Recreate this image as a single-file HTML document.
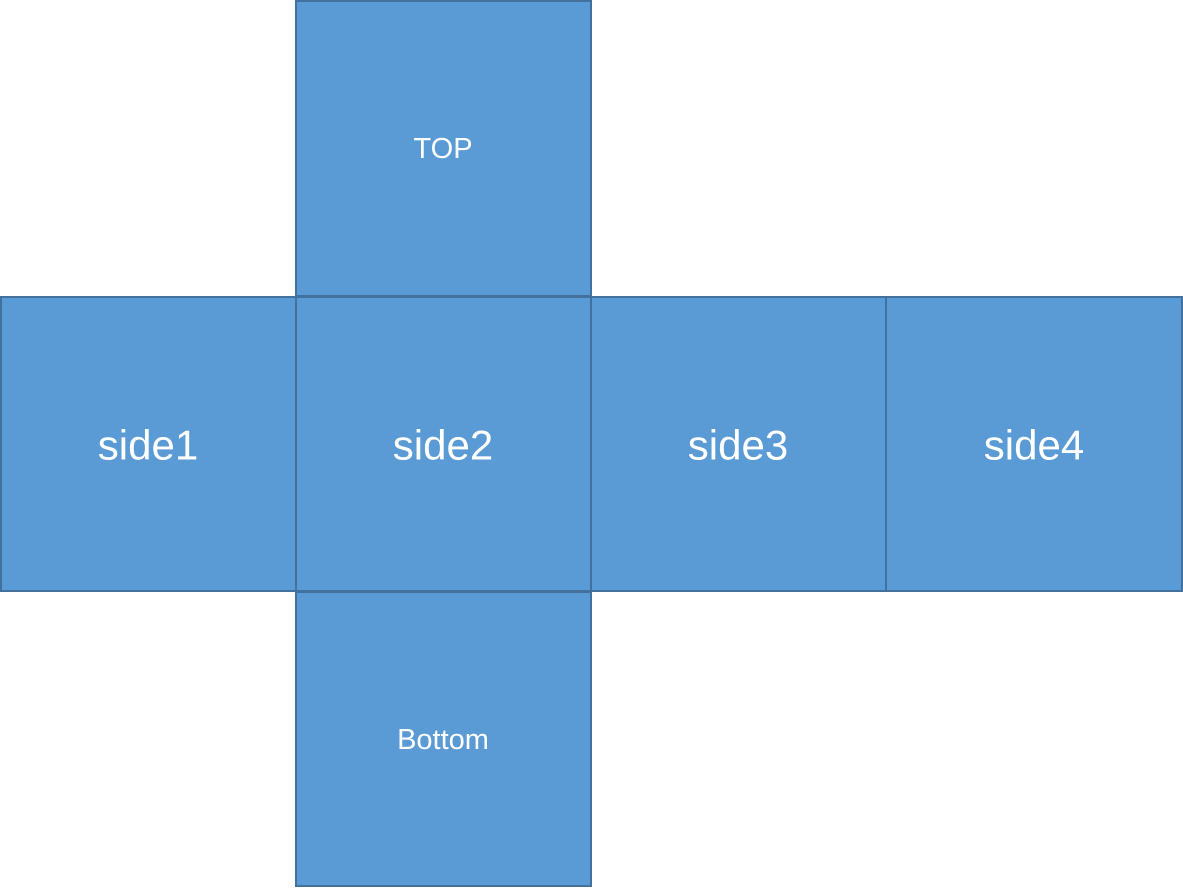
<!DOCTYPE html>
<html><head><meta charset="utf-8"><style>
html,body{margin:0;padding:0;background:#fff;width:1183px;height:888px;overflow:hidden}
svg{display:block}
text{font-family:"Liberation Sans","DejaVu Sans",sans-serif;fill:#fff;text-anchor:middle;dominant-baseline:central}
</style></head><body>
<svg width="1183" height="888">
<g stroke="#41719C" stroke-width="2" fill="#5B9BD5">
<rect x="296" y="1" width="295" height="295"/>
<rect x="1" y="297" width="295" height="294"/>
<rect x="296" y="297" width="295" height="294"/>
<rect x="591" y="297" width="295" height="294"/>
<rect x="886" y="297" width="296" height="294"/>
<rect x="296" y="592" width="295" height="294"/>
</g>
<text x="443" y="149" font-size="29">TOP</text>
<text x="148" y="445" font-size="42">side1</text>
<text x="443" y="445" font-size="42">side2</text>
<text x="738" y="445" font-size="42">side3</text>
<text x="1034" y="445" font-size="42">side4</text>
<text x="443" y="740" font-size="29">Bottom</text>
</svg>
</body></html>
